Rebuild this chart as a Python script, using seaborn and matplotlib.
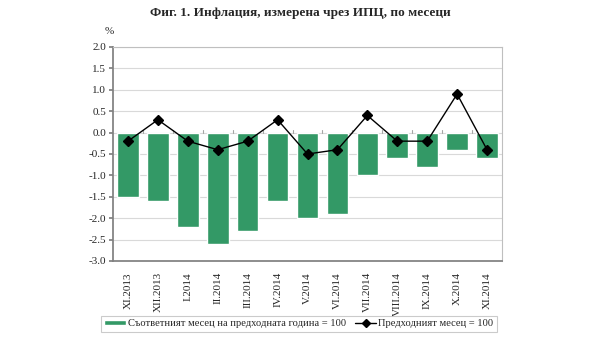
import matplotlib
matplotlib.use("Agg")
import matplotlib.pyplot as plt
import seaborn as sns
import pandas as pd
import numpy as np
from matplotlib.lines import Line2D
from matplotlib.patches import Patch

months = ["XI.2013", "XII.2013", "I.2014", "II.2014", "III.2014", "IV.2014", "V.2014",
          "VI.2014", "VII.2014", "VIII.2014", "IX.2014", "X.2014", "XI.2014"]
yoy = [-1.5, -1.6, -2.2, -2.6, -2.3, -1.6, -2.0, -1.9, -1.0, -0.6, -0.8, -0.4, -0.6]
mom = [-0.2, 0.3, -0.2, -0.4, -0.2, 0.3, -0.5, -0.4, 0.4, -0.2, -0.2, 0.9, -0.4]
yticks = [2.0, 1.5, 1.0, 0.5, 0.0, -0.5, -1.0, -1.5, -2.0, -2.5, -3.0]

sns.set_theme(style="white")
plt.rcParams['font.family'] = ['Liberation Serif', 'DejaVu Serif']

df = pd.DataFrame({"month": months, "yoy": yoy, "mom": mom})

fig = plt.figure(figsize=(6, 3.38), dpi=100)
ax = fig.add_axes([113/600, 1-261/338, (502-113)/600, (261-47)/338])

green = "#339966"
sns.barplot(data=df, x="month", y="yoy", color=green, saturation=1, width=0.72, ax=ax, zorder=2)
ax.plot(np.arange(len(months)), mom, color="black", lw=1.0, marker="D", markersize=5.5, zorder=3)

ax.set_ylim(-3.0, 2.0)
ax.set_yticks(yticks)
ax.set_yticklabels([f"{v:.1f}" for v in yticks], fontsize=8)
ax.set_xlim(-0.5, len(months) - 0.5)
ax.set_xticks(np.arange(len(months)))
ax.set_xticklabels(months, rotation=90, fontsize=8)
ax.set_xlabel("")
ax.set_ylabel("")
ax.yaxis.grid(True, color="#d9d9d9", lw=0.8, zorder=0)
ax.set_axisbelow(True)
for s in ["top", "right"]:
    ax.spines[s].set_color("#bfbfbf")
    ax.spines[s].set_linewidth(0.8)
ax.spines["left"].set_color("#808080")
ax.spines["bottom"].set_color("#808080")
ax.tick_params(axis="y", left=True, length=3, color="#808080", pad=2)
ax.tick_params(axis="x", bottom=False, pad=2)
# small category separator ticks on the zero line
for xb in np.arange(0.5, len(months) - 0.5, 1.0):
    ax.plot([xb, xb], [0, 0.06], color="#a6a6a6", lw=0.8, zorder=1)

fig.text(0.5, 1-13/338, "Фиг. 1. Инфлация, измерена чрез ИПЦ, по месеци",
         ha="center", va="center", fontsize=9.5, fontweight="bold")
fig.text(109/600, 1-32/338, "%", ha="center", va="center", fontsize=8)

handles = [Patch(facecolor=green, label="Съответният месец на предходната година = 100"),
           Line2D([0], [0], color="black", lw=1, marker="D", markersize=4,
                  label="Предходният месец = 100")]
leg = fig.legend(handles=handles, loc="center", bbox_to_anchor=(299/600, 1-324/338), ncol=2,
                 fontsize=7.6, frameon=True, fancybox=False, edgecolor="#bfbfbf",
                 handlelength=2.0, handleheight=0.35, columnspacing=0.9, handletextpad=0.2,
                 borderpad=0.35)
leg.get_frame().set_linewidth(0.8)

fig.savefig("out.png", dpi=100)
